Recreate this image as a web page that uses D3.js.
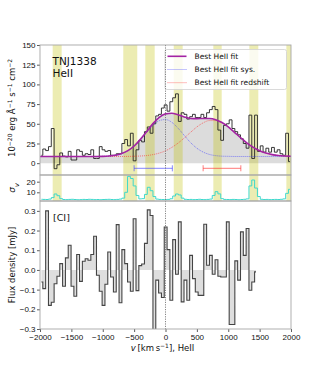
<!DOCTYPE html>
<html>
<head>
<meta charset="utf-8">
<script src="https://cdn.jsdelivr.net/npm/d3@7"></script>
<style>
  body { margin: 0; background: #fff; }
  svg { display: block; font-family: "DejaVu Sans", sans-serif; }
</style>
</head>
<body>
<div id="chart"></div>
<script>
// spectral grid, km/s
const V0 = -2000;
const DV = 45;

// HeII flux per channel, 1e-20 erg/s/cm2/A
const heiiFlux = [10, 18, 16, 21, 44, -7, -2, 13, 9, 8, 15, 4, 4, 17, 15, 10, 12, 11, 17, 6,
  6, 21, 17, 15, 16, 10, 10, 12, 12, 25, 30, 22, 38, 3, 17, 29, 27, 40, 46, 38,
  50, 60, 62, 70, 74, 66, 78, 83, 88, 53, 64, 62, 56, 59, 62, 58, 58, 62, 58, 64,
  68, 72, 68, 42, 29, 48, 50, 55, 44, 40, 36, 31, 25, 19, 61, 6, 61, 15, 22, 14,
  19, 14, 20, 14, 17, 12, 10, 38, 2];

// noise per channel
const heiiSigma = [3.4, 3.3, 3.2, 3.6, 5.0, 8.4, 6.8, 4.0,
  3.2, 3.1, 3.3, 3.4, 3.2, 3.0, 3.1, 3.3, 3.2, 3.4, 3.3, 3.1, 3.2, 3.0, 3.2, 3.3, 3.4, 3.2, 3.1, 3.3, 3.6,
  4.5, 10, 25, 23, 16, 7, 3.8, 4.0, 8, 14.7, 11.5, 6,
  3.6, 3.3, 3.2, 3.1, 3.3, 3.9, 6.5, 8.4, 7.5, 4.5,
  3.4, 3.2, 3.3, 3.1, 3.2, 3.4, 3.2, 3.1, 3.3, 3.6, 7, 10.6, 8.5, 4,
  3.3, 3.2, 3.1, 3.3, 3.2, 3.0, 3.2, 3.4, 3.8, 16, 21.6, 14, 6,
  3.4, 3.2, 3.3, 3.1, 3.2, 3.3, 3.2, 3.4, 3.8, 9, 12.8];

// [CI] flux density per channel, mJy
const ciFlux = [-0.061, -0.095, 0.30, -0.18, -0.164, -0.07, -0.032, 0.032, -0.083, 0.061,
  0.125, -0.083, -0.134, 0.078, -0.058, 0.044, 0.057, 0.049, 0.078, 0.171,
  -0.027, -0.108, -0.18, -0.073, 0.091, -0.036, -0.112, 0.23, -0.167, 0.103,
  0.032, -0.061, -0.108, 0.26, -0.105, 0.022, 0.03, 0.135, 0.305, 0.276,
  -0.31, -0.052, -0.117, -0.14, 0.218, 0.103, -0.154, 0.154, -0.022, 0.244,
  -0.162, -0.052, -0.154, 0.074, -0.044, -0.112, -0.129, -0.129, 0.232, 0.024,
  0.074, -0.022, 0.052, -0.032, -0.036, -0.036, 0.244, -0.277, -0.277, 0.046,
  -0.052, 0.193, 0.074, 0.21, -0.103, -0.061, -0.01];

// fit curves read every 100 km/s from -2000 to 2000
const fitTotal = [8.5, 8.5, 8.5, 8.5, 8.5, 8.5, 8.5, 8.5, 8.5, 8.5,
  8.7, 9.2, 10.1, 12.2, 15.9, 21.8, 30.2, 40.1, 50.2, 58.2,
  62.6, 63.4, 61.4, 58.7, 56.8, 56.5, 56.8, 56.7, 55.2, 51.6,
  46.2, 39.2, 32.1, 25.5, 20.0, 15.7, 12.8, 10.9, 9.7, 9.1, 8.8];
const fitSys = [8.5, 8.5, 8.5, 8.5, 8.5, 8.5, 8.5, 8.5, 8.5, 8.5,
  8.7, 9.1, 10.1, 12.1, 15.8, 21.6, 29.6, 38.9, 47.8, 53.9,
  55.4, 51.9, 44.4, 35.1, 26.1, 19.0, 14.1, 11.1, 9.6, 8.9,
  8.7, 8.5, 8.5, 8.5, 8.5, 8.5, 8.5, 8.5, 8.5, 8.5, 8.5];
const fitRed = [8.5, 8.5, 8.5, 8.5, 8.5, 8.5, 8.5, 8.5, 8.5, 8.5,
  8.5, 8.5, 8.5, 8.5, 8.6, 8.8, 9.1, 9.7, 10.9, 12.8,
  15.7, 20.0, 25.5, 32.1, 39.2, 46.0, 51.2, 54.1, 54.1, 51.2,
  46.0, 39.2, 32.1, 25.5, 20.0, 15.7, 12.8, 10.9, 9.7, 9.1, 8.8];

// sky-line masked ranges (km/s)
const skyBands = [[-1798, -1655], [-673, -450], [-322, -172], [131, 274], [762, 896], [1336, 1479], [1926, 2060]];

// velocity uncertainty bars
const errBars = [
  { lo: -500, hi: 110, y: -6.5, color: 'rgba(60,60,255,0.5)' },
  { lo: 600, hi: 1200, y: -6.5, color: 'rgba(255,40,40,0.5)' }
];

const legendItems = [
  { label: 'Best HeII fit', color: '#a323a3', dash: null, width: 1.6 },
  { label: 'Best HeII fit sys.', color: 'rgba(60,60,255,0.6)', dash: '1,1', width: 1 },
  { label: 'Best HeII fit redshift', color: 'rgba(255,40,40,0.6)', dash: '1,1', width: 1 }
];

const W = 324, H = 378;
const X0 = 40, X1 = 291;
const FRAME = '#a6a6a6';
const TICK_FONT = '8px';

const svg = d3.select('#chart').append('svg')
  .attr('width', W).attr('height', H);

const x = d3.scaleLinear().domain([-2000, 2000]).range([X0, X1]);
const yTop = d3.scaleLinear().domain([-15, 150]).range([175, 45]);
const ySig = d3.scaleLinear().domain([1.8, 26.3]).range([201, 175]);
const yBot = d3.scaleLinear().domain([-0.3, 0.35]).range([329, 201]);

const chanV = (n) => d3.range(n).map(i => V0 + DV * (i + 0.5));
const fitV = d3.range(-2000, 2001, 100);

function clip(id, y0, y1) {
  svg.append('clipPath').attr('id', id).append('rect')
    .attr('x', X0).attr('y', y0).attr('width', X1 - X0).attr('height', y1 - y0);
}
clip('cTop', 45, 175);
clip('cSig', 175, 201);
clip('cBot', 201, 329);

function yAxis(scale, ticks, fmt) {
  const g = svg.append('g').attr('transform', `translate(${X0},0)`)
    .call(d3.axisLeft(scale).tickValues(ticks).tickFormat(fmt).tickSize(3).tickPadding(1.5));
  g.select('.domain').remove();
  g.selectAll('line').attr('stroke', '#333').attr('stroke-width', 0.8);
  g.selectAll('text').style('font-size', TICK_FONT).attr('fill', '#111');
  return g;
}

// ---- top panel: HeII
const gTop = svg.append('g').attr('clip-path', 'url(#cTop)');
const fitPts = fitV.map((v, i) => [v, fitTotal[i]]);

gTop.append('path')
  .datum(fitPts)
  .attr('d', d3.area().curve(d3.curveMonotoneX)
    .x(d => x(d[0])).y0(yTop(0)).y1(d => yTop(d[1])))
  .attr('fill', '#dcdcdc');

for (const [a, b] of skyBands) {
  gTop.append('rect')
    .attr('x', x(a)).attr('width', x(b) - x(a))
    .attr('y', 45).attr('height', 130)
    .attr('fill', 'rgba(191,191,0,0.3)');
}

const fluxPts = chanV(heiiFlux.length).map((v, i) => [v, heiiFlux[i]]);
gTop.append('path')
  .datum(fluxPts)
  .attr('d', d3.line().curve(d3.curveStep).x(d => x(d[0])).y(d => yTop(d[1])))
  .attr('fill', 'none').attr('stroke', '#222').attr('stroke-width', 0.9);

gTop.append('path')
  .datum(fitV.map((v, i) => [v, fitSys[i]]))
  .attr('d', d3.line().curve(d3.curveMonotoneX).x(d => x(d[0])).y(d => yTop(d[1])))
  .attr('fill', 'none').attr('stroke', legendItems[1].color)
  .attr('stroke-width', 1).attr('stroke-dasharray', '1,1');

gTop.append('path')
  .datum(fitV.map((v, i) => [v, fitRed[i]]))
  .attr('d', d3.line().curve(d3.curveMonotoneX).x(d => x(d[0])).y(d => yTop(d[1])))
  .attr('fill', 'none').attr('stroke', legendItems[2].color)
  .attr('stroke-width', 1).attr('stroke-dasharray', '1,1');

gTop.append('path')
  .datum(fitPts)
  .attr('d', d3.line().curve(d3.curveMonotoneX).x(d => x(d[0])).y(d => yTop(d[1])))
  .attr('fill', 'none').attr('stroke', legendItems[0].color).attr('stroke-width', 1.6);

for (const e of errBars) {
  const eg = svg.append('g').attr('stroke', e.color).attr('stroke-width', 1.2);
  eg.append('line').attr('x1', x(e.lo)).attr('x2', x(e.hi))
    .attr('y1', yTop(e.y)).attr('y2', yTop(e.y));
  for (const v of [e.lo, e.hi]) {
    eg.append('line').attr('x1', x(v)).attr('x2', x(v))
      .attr('y1', yTop(e.y) - 3).attr('y2', yTop(e.y) + 3);
  }
}

yAxis(yTop, [0, 25, 50, 75, 100, 125, 150], d3.format('d'));

svg.append('text').attr('x', 52.5).attr('y', 64.5)
  .style('font-size', '10.5px').attr('fill', '#111').text('TNJ1338');
svg.append('text').attr('x', 52.5).attr('y', 77)
  .style('font-size', '10.5px').attr('fill', '#111').text('HeII');

// legend
const lg = svg.append('g').attr('transform', 'translate(165,49.5)');
lg.append('rect').attr('width', 121.5).attr('height', 40).attr('rx', 2)
  .attr('fill', 'rgba(255,255,255,0.8)').attr('stroke', '#d0d0d0').attr('stroke-width', 0.8);
legendItems.forEach((d, i) => {
  const yy = 6.8 + i * 13.2;
  lg.append('line').attr('x1', 2.5).attr('x2', 21.5).attr('y1', yy).attr('y2', yy)
    .attr('stroke', d.color).attr('stroke-width', d.width)
    .attr('stroke-dasharray', d.dash);
  lg.append('text').attr('x', 29.5).attr('y', yy + 2.7)
    .style('font-size', '7.5px').attr('fill', '#111').text(d.label);
});

// ---- sigma panel
const gSig = svg.append('g').attr('clip-path', 'url(#cSig)');
for (const [a, b] of skyBands) {
  gSig.append('rect')
    .attr('x', x(a)).attr('width', x(b) - x(a))
    .attr('y', 175).attr('height', 26)
    .attr('fill', 'rgba(191,191,0,0.3)');
}
gSig.append('path')
  .datum(chanV(heiiSigma.length).map((v, i) => [v, heiiSigma[i]]))
  .attr('d', d3.line().curve(d3.curveStep).x(d => x(d[0])).y(d => ySig(d[1])))
  .attr('fill', 'none').attr('stroke', '#3fd8cc').attr('stroke-width', 1);

yAxis(ySig, [10, 20], d3.format('d'));

// ---- bottom panel: [CI]
const gBot = svg.append('g').attr('clip-path', 'url(#cBot)');
const ciPts = chanV(ciFlux.length).map((v, i) => [v, ciFlux[i]]);
gBot.append('path')
  .datum(ciPts)
  .attr('d', d3.area().curve(d3.curveStep)
    .x(d => x(d[0])).y0(yBot(0)).y1(d => yBot(d[1])))
  .attr('fill', '#dedede');
gBot.append('path')
  .datum(ciPts)
  .attr('d', d3.line().curve(d3.curveStep).x(d => x(d[0])).y(d => yBot(d[1])))
  .attr('fill', 'none').attr('stroke', '#444').attr('stroke-width', 1.1);

yAxis(yBot, [-0.3, -0.2, -0.1, 0, 0.1, 0.2, 0.3], d3.format('.1f'));

svg.append('text').attr('x', 53).attr('y', 221)
  .style('font-size', '9.5px').attr('fill', '#111').text('[CI]');

const xg = svg.append('g').attr('transform', 'translate(0,329)')
  .call(d3.axisBottom(x).tickValues(d3.range(-2000, 2001, 500)).tickFormat(d3.format('d'))
    .tickSize(3).tickPadding(2));
xg.select('.domain').remove();
xg.selectAll('line').attr('stroke', '#333').attr('stroke-width', 0.8);
xg.selectAll('text').style('font-size', TICK_FONT).attr('fill', '#111');

// zero-velocity marker across all panels
svg.append('line').attr('x1', x(0)).attr('x2', x(0)).attr('y1', 45).attr('y2', 329)
  .attr('stroke', '#666').attr('stroke-width', 0.8).attr('stroke-dasharray', '1.2,1.2');

// frames
for (const [a, b] of [[45, 175], [175, 201], [201, 329]]) {
  svg.append('rect').attr('x', X0).attr('y', a).attr('width', X1 - X0).attr('height', b - a)
    .attr('fill', 'none').attr('stroke', FRAME).attr('stroke-width', 0.9);
}

// axis labels
const yl = svg.append('text')
  .attr('transform', 'translate(15,108) rotate(-90)')
  .attr('text-anchor', 'middle').style('font-size', '8.5px').attr('fill', '#111');
yl.append('tspan').text('10');
yl.append('tspan').attr('baseline-shift', 'super').style('font-size', '6px').text('\u221220');
yl.append('tspan').text(' erg \u00c5');
yl.append('tspan').attr('baseline-shift', 'super').style('font-size', '6px').text('\u22121');
yl.append('tspan').text(' s');
yl.append('tspan').attr('baseline-shift', 'super').style('font-size', '6px').text('\u22121');
yl.append('tspan').text(' cm');
yl.append('tspan').attr('baseline-shift', 'super').style('font-size', '6px').text('\u22122');

const sl = svg.append('text')
  .attr('transform', 'translate(15,188) rotate(-90)')
  .attr('text-anchor', 'middle').style('font-size', '9px').attr('fill', '#111');
sl.append('tspan').style('font-style', 'italic').text('\u03c3');
sl.append('tspan').attr('baseline-shift', 'sub').style('font-size', '6.5px').style('font-style', 'italic').text('v');

svg.append('text')
  .attr('transform', 'translate(15,265) rotate(-90)')
  .attr('text-anchor', 'middle').style('font-size', '8.5px').attr('fill', '#111')
  .text('Flux density [mJy]');

const xl = svg.append('text')
  .attr('x', x(0) - 3).attr('y', 350.5)
  .attr('text-anchor', 'middle').style('font-size', '8.5px').attr('fill', '#111');
xl.append('tspan').style('font-style', 'italic').text('v');
xl.append('tspan').text('\u2009[km\u2009s');
xl.append('tspan').attr('baseline-shift', 'super').style('font-size', '6px').text('\u22121');
xl.append('tspan').text('], HeII');
</script>
</body>
</html>
